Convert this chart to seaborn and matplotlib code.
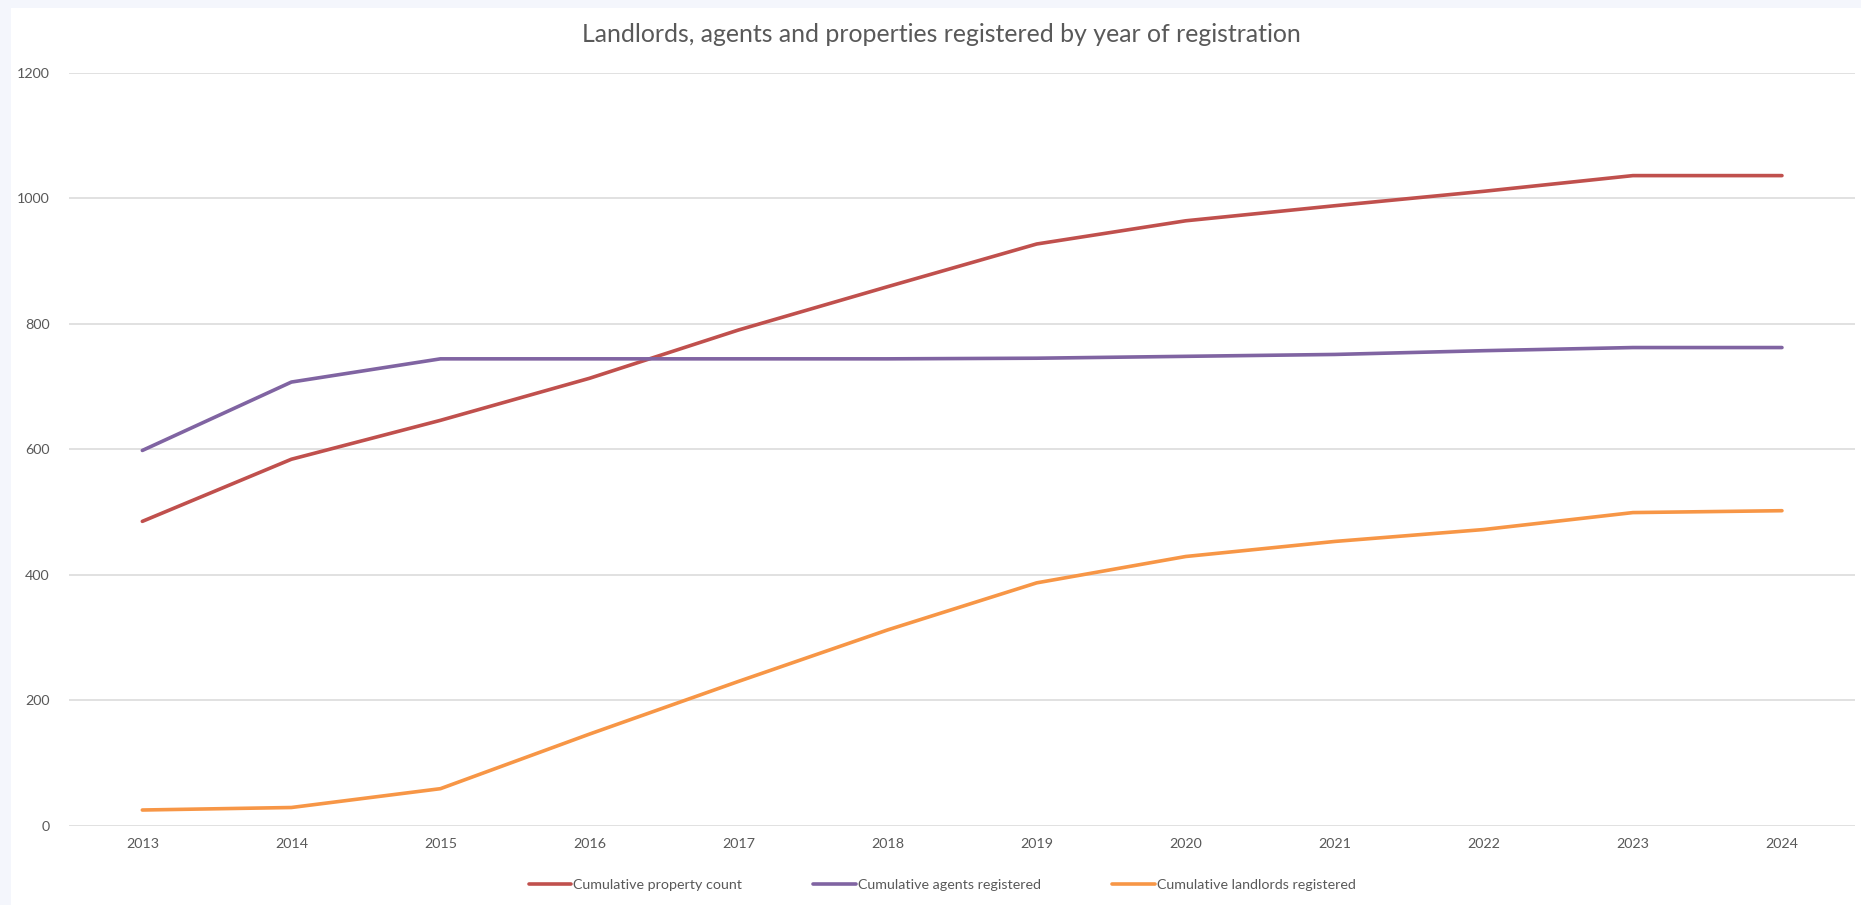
import matplotlib
matplotlib.use("Agg")
import matplotlib.pyplot as plt
import seaborn as sns
import pandas as pd
from matplotlib.patches import Rectangle
from matplotlib.lines import Line2D

years = ["2013", "2014", "2015", "2016", "2017", "2018", "2019", "2020", "2021", "2022", "2023", "2024"]
property_count = [485, 584, 646, 713, 790, 859, 927, 964, 988, 1011, 1036, 1036]
agents_registered = [598, 707, 744, 744, 744, 744, 745, 748, 751, 757, 762, 762]
landlords_registered = [25, 29, 59, 146, 230, 312, 387, 429, 453, 472, 499, 502]
series_names = ["Cumulative property count", "Cumulative agents registered", "Cumulative landlords registered"]
y_ticks = [0, 200, 400, 600, 800, 1000, 1200]
title = "Landlords, agents and properties registered by year of registration"

colors = ["#C0504D", "#8064A2", "#F79646"]

df = pd.DataFrame({
    "year": years * 3,
    "value": property_count + agents_registered + landlords_registered,
    "series": [series_names[0]] * len(years) + [series_names[1]] * len(years) + [series_names[2]] * len(years),
})

sns.set_theme(style="white")
plt.rcParams["font.family"] = ["Lato", "DejaVu Sans"]

fig = plt.figure(figsize=(18.61, 9.05), dpi=100)
fig.patch.set_facecolor("#F4F6FC")
fig.patches.append(Rectangle((11 / 1861, 0), 1 - 11 / 1861, 1 - 8 / 905, transform=fig.transFigure,
                             facecolor="white", edgecolor="none", zorder=-5))

ax = fig.add_axes([69.3 / 1861, (905 - 825.7) / 905, (1855 - 69.3) / 1861, 753 / 905])
ax.set_facecolor("none")
ax.set_zorder(1)

sns.lineplot(data=df, x="year", y="value", hue="series", palette=colors, linewidth=2.6,
             ax=ax, legend=False, sort=False)

ax.set_xlim(-0.49, 11.49)
ax.set_ylim(0, 1200)
ax.set_yticks(y_ticks)
ax.set_yticklabels([str(t) for t in y_ticks])
ax.yaxis.grid(True, color="#D9D9D9", linewidth=1.1)
ax.xaxis.grid(False)
ax.set_axisbelow(True)
for s in ax.spines.values():
    s.set_visible(False)
ax.tick_params(axis="both", length=0, labelsize=10.3, colors="#595959")
ax.tick_params(axis="y", pad=14)
ax.tick_params(axis="x", pad=9)
ax.set_xlabel("")
ax.set_ylabel("")

fig.text(941 / 1861, 1 - 35 / 905, title, ha="center", va="center", fontsize=17.9, color="#595959")

handles = [Line2D([0], [0], color=c, linewidth=2.6) for c in colors]
fig.legend(handles, series_names, loc="center", bbox_to_anchor=(942 / 1861, 1 - 885 / 905),
           ncol=3, frameon=False, fontsize=10.3, labelcolor="#595959", handlelength=3.0,
           handletextpad=0.1, columnspacing=5.0)

fig.savefig("out.png", dpi=100, facecolor=fig.get_facecolor())
